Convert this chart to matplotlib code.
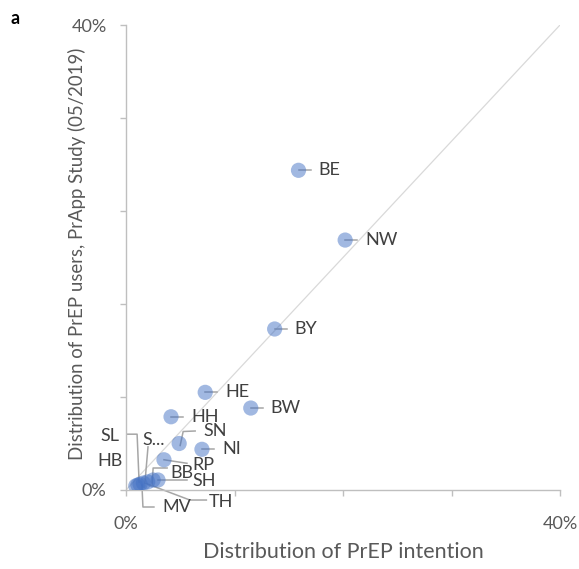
import numpy as np
import matplotlib
matplotlib.use("Agg")
import matplotlib.pyplot as plt
from matplotlib.ticker import FixedLocator, FuncFormatter

plt.rcParams["font.family"] = ["Lato", "DejaVu Sans"]

# data: share of PrEP intention (x) vs share of PrEP users (y), percent
states = ["BE", "NW", "BY", "HE", "BW", "HH", "SN", "NI", "RP",
          "SH", "BB", "S...", "TH", "MV", "SL", "HB"]
intention = [15.9, 20.2, 13.7, 7.3, 11.5, 4.15, 4.9, 7.0, 3.5,
             2.95, 2.5, 2.0, 1.6, 1.1, 1.3, 0.9]
users = [27.5, 21.5, 13.85, 8.4, 7.05, 6.3, 4.0, 3.5, 2.6,
         0.86, 0.86, 0.7, 0.6, 0.43, 0.5, 0.35]

# label placement in screen pixels relative to the point (x right, y down):
# (text offset, leader polyline)
STD = ((20, 0), [(0, 0), (12, 0)])
layout = {
    "BE": STD, "NW": STD, "BY": STD, "HE": STD, "BW": STD, "HH": STD, "NI": STD,
    "SN": ((24, -12), [(1, 2), (4, -12), (16, -12.5)]),
    "RP": ((28, 5), [(0, 0), (23, 3.5)]),
    "SH": ((34, 1), [(0, 0), (29, 0)]),
    "BB": ((17, -7), [(-1, 4), (0, -12), (14, -12)]),
    "S...": ((-5, -42), [(-2.7, 0), (0.3, -35)]),
    "TH": ((65, 19), [(1.5, 0), (46.5, 17), (63, 17)]),
    "MV": ((24, 22), [(4, 0), (5, 22), (16, 22)]),
    "SL": ((-40, -48), [(-13, -50), (-3, -50), (-1, -2)]),
    "HB": ((-38, -25), []),
}

W, H = 579, 569
fig = plt.figure(figsize=(W / 100, H / 100), dpi=100)
x0, x1, y0, y1 = 126, 560, 25, 490
ax = fig.add_axes([x0 / W, 1 - y1 / H, (x1 - x0) / W, (y1 - y0) / H])

grey = "#BFBFBF"
txt = "#595959"
ax.set_xlim(0, 40)
ax.set_ylim(0, 40)
ax.plot([0, 40], [0, 40], color="#D9D9D9", lw=0.9, zorder=1)
ax.scatter(intention, users, s=120, color="#4472C4", alpha=0.5,
           edgecolors="none", zorder=3)

for sp in ["top", "right"]:
    ax.spines[sp].set_visible(False)
for sp in ["left", "bottom"]:
    ax.spines[sp].set_color(grey)
    ax.spines[sp].set_linewidth(1.0)
ax.xaxis.set_major_locator(FixedLocator([0, 10, 20, 30, 40]))
ax.yaxis.set_major_locator(FixedLocator([0, 8, 16, 24, 32, 40]))
fmt = FuncFormatter(lambda v, p: f"{v:.0f}%" if v in (0, 40) else "")
ax.xaxis.set_major_formatter(fmt)
ax.yaxis.set_major_formatter(fmt)
ax.tick_params(colors=grey, labelcolor=txt, labelsize=13, length=4, width=1.0)
ax.tick_params(axis="x", pad=15)
ax.tick_params(axis="y", pad=10)

fig.text(343 / W, 1 - 552 / H, "Distribution of PrEP intention", fontsize=15.5,
         color=txt, ha="center", va="center")
fig.text(77 / W, 1 - 254 / H, "Distribution of PrEP users, PrApp Study (05/2019)",
         fontsize=13.4, color=txt, ha="center", va="center", rotation=90)
fig.text(15 / W, 1 - 18 / H, "a", fontsize=13, fontweight="bold", va="center",
         ha="center", color="#000000")

inv = ax.transData.inverted()
for name, xv, yv in zip(states, intention, users):
    (tx, ty), path = layout[name]
    px, py = ax.transData.transform((xv, yv))
    if path:
        pts = inv.transform([(px + dx, py - dy) for dx, dy in path])
        ax.plot(pts[:, 0], pts[:, 1], color="#A6A6A6", lw=1.1, zorder=2,
                clip_on=False)
    lx, ly = inv.transform((px + tx, py - ty))
    ax.text(lx, ly, name, fontsize=13, color="#404040", ha="left",
            va="center", zorder=4, clip_on=False)

fig.savefig("out.png", dpi=100)
